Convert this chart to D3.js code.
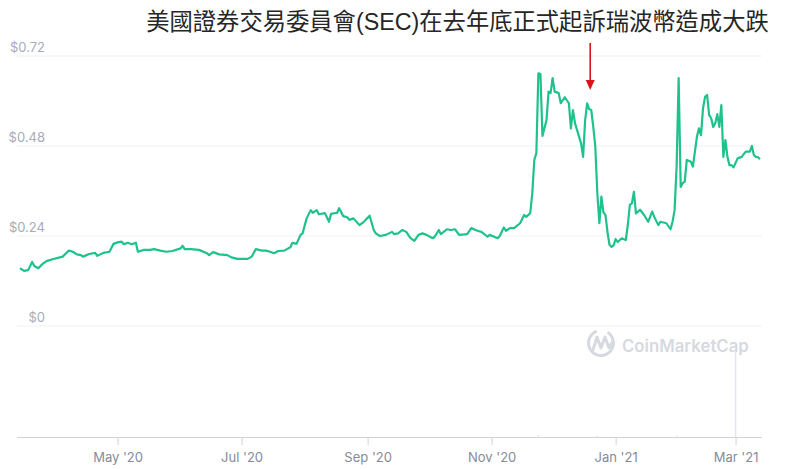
<!DOCTYPE html>
<html>
<head>
<meta charset="utf-8">
<script src="https://cdn.jsdelivr.net/npm/d3@7"></script>
<style>
  html, body { margin: 0; padding: 0; background: #fff; }
  svg { display: block; }
</style>
</head>
<body>
<svg id="chart" width="800" height="469"></svg>
<script>
const titleText = "美國證券交易委員會(SEC)在去年底正式起訴瑞波幣造成大跌";
const yTicks = [0, 0.24, 0.48, 0.72];
const xTicks = ["2020-05-01", "2020-07-01", "2020-09-01", "2020-11-01", "2021-01-01", "2021-03-01"];
const annotationDate = "2020-12-19";

const dates = [
"2020-03-14","2020-03-16","2020-03-18","2020-03-20","2020-03-21","2020-03-23","2020-03-25","2020-03-27","2020-03-30",
"2020-04-04","2020-04-07","2020-04-09","2020-04-11","2020-04-13","2020-04-14","2020-04-17","2020-04-20","2020-04-21","2020-04-24","2020-04-27","2020-04-29",
"2020-05-01","2020-05-03","2020-05-04","2020-05-06","2020-05-08","2020-05-10","2020-05-11","2020-05-14","2020-05-17","2020-05-19","2020-05-22","2020-05-25","2020-05-28",
"2020-06-01","2020-06-02","2020-06-03","2020-06-06","2020-06-10","2020-06-14","2020-06-15","2020-06-17","2020-06-20","2020-06-24","2020-06-26","2020-06-29",
"2020-07-04","2020-07-06","2020-07-08","2020-07-11","2020-07-13","2020-07-15","2020-07-17","2020-07-19","2020-07-22","2020-07-25","2020-07-26","2020-07-28","2020-07-30","2020-07-31",
"2020-08-02","2020-08-04","2020-08-05","2020-08-07","2020-08-08","2020-08-11","2020-08-13","2020-08-14","2020-08-17","2020-08-18","2020-08-20","2020-08-22","2020-08-23","2020-08-25","2020-08-28","2020-08-30","2020-08-31",
"2020-09-02","2020-09-04","2020-09-05","2020-09-07","2020-09-10","2020-09-13","2020-09-14","2020-09-16","2020-09-18","2020-09-20","2020-09-22","2020-09-24","2020-09-26","2020-09-28","2020-09-30",
"2020-10-03","2020-10-04","2020-10-06","2020-10-07","2020-10-10","2020-10-12","2020-10-14","2020-10-16","2020-10-20","2020-10-22","2020-10-25","2020-10-27","2020-10-30","2020-10-31",
"2020-11-04","2020-11-05","2020-11-07","2020-11-08","2020-11-10","2020-11-12","2020-11-15","2020-11-17","2020-11-18","2020-11-20","2020-11-21","2020-11-22","2020-11-23","2020-11-24","2020-11-25","2020-11-26","2020-11-28","2020-11-29","2020-11-30",
"2020-12-01","2020-12-02","2020-12-04","2020-12-05","2020-12-07","2020-12-09","2020-12-10","2020-12-11","2020-12-12","2020-12-15","2020-12-16","2020-12-17","2020-12-18","2020-12-19","2020-12-20","2020-12-21","2020-12-22","2020-12-23","2020-12-24","2020-12-25","2020-12-26","2020-12-27","2020-12-28","2020-12-29","2020-12-30","2020-12-31",
"2021-01-01","2021-01-02","2021-01-04","2021-01-06","2021-01-07","2021-01-08","2021-01-09","2021-01-10","2021-01-11","2021-01-13","2021-01-15","2021-01-17","2021-01-19","2021-01-20","2021-01-22","2021-01-23","2021-01-26","2021-01-28","2021-01-29","2021-01-30","2021-01-31",
"2021-02-01","2021-02-02","2021-02-03","2021-02-04","2021-02-05","2021-02-07","2021-02-08","2021-02-10","2021-02-11","2021-02-12","2021-02-13","2021-02-14","2021-02-15","2021-02-16","2021-02-17","2021-02-18","2021-02-19","2021-02-20","2021-02-21","2021-02-22","2021-02-23","2021-02-24","2021-02-25","2021-02-26","2021-02-27","2021-02-28",
"2021-03-02","2021-03-04","2021-03-06","2021-03-08","2021-03-09","2021-03-10","2021-03-11","2021-03-12","2021-03-13"
];

const prices = [
0.154,0.147,0.149,0.171,0.160,0.154,0.165,0.173,0.178,
0.185,0.201,0.198,0.191,0.189,0.185,0.192,0.195,0.187,0.195,0.198,0.219,
0.223,0.225,0.218,0.222,0.218,0.222,0.198,0.203,0.203,0.205,0.201,0.198,0.200,
0.207,0.214,0.205,0.205,0.203,0.194,0.189,0.197,0.191,0.189,0.183,0.179,
0.179,0.185,0.205,0.201,0.201,0.198,0.194,0.200,0.201,0.210,0.222,0.219,0.243,0.247,
0.287,0.309,0.302,0.309,0.298,0.301,0.278,0.299,0.302,0.314,0.293,0.290,0.283,0.287,0.269,0.277,0.283,
0.294,0.256,0.247,0.240,0.243,0.251,0.245,0.247,0.256,0.251,0.235,0.227,0.243,0.247,0.243,
0.234,0.238,0.256,0.245,0.258,0.256,0.258,0.243,0.245,0.261,0.254,0.251,0.238,0.243,
0.234,0.240,0.263,0.254,0.261,0.261,0.274,0.296,0.291,0.301,0.354,0.443,0.461,0.674,0.672,0.507,0.549,0.625,0.621,
0.661,0.625,0.621,0.594,0.610,0.594,0.527,0.576,0.541,0.487,0.451,0.549,0.594,0.578,0.576,0.531,0.478,0.354,0.274,0.345,0.303,0.296,0.250,0.216,0.211,0.215,
0.232,0.224,0.234,0.229,0.270,0.323,0.327,0.358,0.300,0.310,0.296,0.278,0.305,0.291,0.269,0.278,0.274,0.258,0.278,0.309,0.425,
0.661,0.371,0.381,0.385,0.443,0.438,0.425,0.505,0.527,0.509,0.581,0.611,0.616,0.563,0.554,0.531,0.541,0.565,0.531,0.589,0.451,0.496,0.451,0.429,0.429,0.423,
0.447,0.451,0.465,0.465,0.480,0.456,0.451,0.450,0.445
];

const volDates = ["2020-11-24", "2020-12-23", "2021-01-31", "2021-03-01"];
const volValues = [0.6, 0.4, 0.5, 30];

const parse = d3.utcParse("%Y-%m-%d");
const data = dates.map((d, i) => ({ date: parse(d), value: prices[i] }));
const vol = volDates.map((d, i) => ({ date: parse(d), value: volValues[i] }));

const svg = d3.select("#chart");
const x = d3.scaleUtc().domain([parse("2020-03-14"), parse("2021-03-14")]).range([20, 762]);
const y = d3.scaleLinear().domain([0, 0.72]).range([326, 56]);
const yv = d3.scaleLinear().domain([0, 30]).range([437, 352]);

// gridlines + y labels
const gy = svg.append("g");
gy.selectAll("line").data(yTicks).join("line")
  .attr("x1", 17).attr("x2", 762)
  .attr("y1", d => y(d)).attr("y2", d => y(d))
  .attr("stroke", "#eff1f4").attr("stroke-width", 1);
gy.selectAll("text").data(yTicks).join("text")
  .attr("x", 45).attr("y", d => y(d) - 4)
  .attr("text-anchor", "end")
  .attr("font-family", "Inter, 'Open Sans', sans-serif")
  .attr("font-size", 13)
  .attr("fill", "#a6acb8")
  .text(d => d === 0 ? "$0" : "$" + d.toFixed(2));

// watermark
const wm = svg.append("g").attr("fill", "none").attr("stroke", "#d6d9e0");
wm.append("path")
  .attr("d", d3.arc()({ innerRadius: 11, outerRadius: 14, startAngle: 0.55, endAngle: 2 * Math.PI - 0.35 }))
  .attr("transform", "translate(601,343)").attr("fill", "#d6d9e0").attr("stroke", "none");
wm.append("path")
  .attr("d", "M593,350 L597,337 L601,348 L605,337 L609,348 L613,341")
  .attr("stroke-width", 3).attr("stroke-linejoin", "round").attr("stroke-linecap", "round");
svg.append("text")
  .attr("x", 622).attr("y", 352)
  .attr("font-family", "Inter, 'Open Sans', sans-serif")
  .attr("font-size", 16.8).attr("font-weight", 600)
  .attr("fill", "#d6d9e0")
  .text("CoinMarketCap");

// volume bars
svg.append("g").selectAll("rect").data(vol).join("rect")
  .attr("x", d => x(d.date) - 0.75).attr("width", 1.5)
  .attr("y", d => yv(d.value)).attr("height", d => yv(0) - yv(d.value))
  .attr("fill", "#e2e5ea");

// x axis
const ax = svg.append("g").attr("transform", "translate(0,437)")
  .call(d3.axisBottom(x).tickValues(xTicks.map(parse)).tickFormat(d3.utcFormat("%b '%y")).tickSize(8).tickSizeOuter(0));
ax.select(".domain").attr("stroke", "#cfd3da").attr("d", "M17,0.5H762");
ax.selectAll(".tick line").attr("stroke", "#cfd3da");
ax.selectAll(".tick text")
  .attr("font-family", "Inter, 'Open Sans', sans-serif")
  .attr("font-size", 13).attr("fill", "#858c99").attr("dy", "1.1em");

// price line
svg.append("path").datum(data)
  .attr("fill", "none").attr("stroke", "#1fc28a").attr("stroke-width", 2.2)
  .attr("stroke-linejoin", "round")
  .attr("d", d3.line().x(d => x(d.date)).y(d => y(d.value)));

// title
svg.append("text")
  .attr("x", 457.5).attr("y", 30)
  .attr("text-anchor", "middle")
  .attr("font-family", "'Liberation Sans', 'Noto Sans CJK TC', sans-serif")
  .attr("font-size", 23.3).attr("font-weight", 400)
  .attr("fill", "#262626")
  .text(titleText);

// red arrow
const axp = x(parse(annotationDate)) + 1;
svg.append("line").attr("x1", axp).attr("x2", axp).attr("y1", 43).attr("y2", 82)
  .attr("stroke", "#d9141c").attr("stroke-width", 1.6);
svg.append("path")
  .attr("d", d3.line()([[axp - 4.5, 80], [axp + 4.5, 80], [axp, 90]]) + "Z")
  .attr("fill", "#d9141c");
</script>
</body>
</html>
